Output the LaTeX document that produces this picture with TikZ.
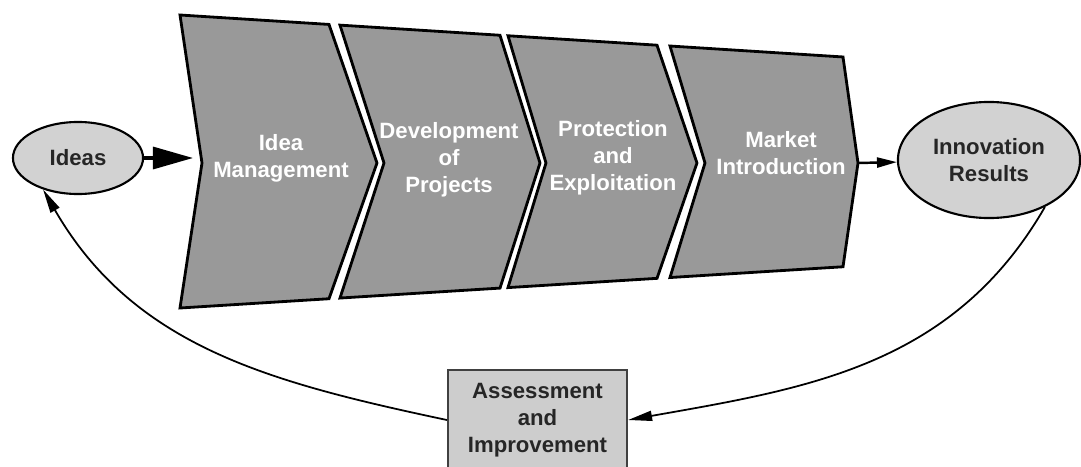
\documentclass[tikz,border=0pt]{standalone}
\usepackage{fontspec}
\setmainfont{Liberation Sans}
\usetikzlibrary{arrows.meta,shapes.geometric}
\definecolor{stepGray}{HTML}{999999}
\definecolor{ovalGray}{HTML}{D2D2D2}
\definecolor{boxGray}{HTML}{CDCDCD}

\begin{document}
\begin{tikzpicture}
[x=0.01cm,y=0.01cm,
  stepDecorate/.style={draw=black,fill=stepGray,line width=0.8pt,line join=miter},%
  stepText/.style={text=white,align=center,font=\bfseries\fontsize{6.3}{7.7}\selectfont},%
  ovalDecorate/.style={shape=ellipse,draw=black,fill=ovalGray,line width=0.6pt,inner sep=0pt,
    align=center,text=black!85,font=\bfseries\fontsize{6.3}{7.7}\selectfont},%
  boxDecorate/.style={shape=rectangle,draw=black!75,fill=boxGray,line width=0.6pt,inner sep=0pt,
    align=center,text=black!85,font=\bfseries\fontsize{6.3}{7.7}\selectfont},%
  bigArrow/.style={-{Triangle[length=4mm,width=2.2mm]},line width=0.9pt},%
  smallArrow/.style={-{Triangle[length=2mm,width=1mm]},line width=0.7pt},%
  curveArrow/.style={-{Triangle[length=2.4mm,width=1mm]},line width=0.5pt}]
\useasboundingbox (0,0) rectangle (1081,466);
\clip (0,0) rectangle (1081,466);
%% steps of the process
\foreach \stepname/\xl/\xn/\xr/\xt/\tx/\ty/\steptext in {
  step1/180/202/329/377/281/308/{Idea\\Management},
  step2/340/384/500/540/449/306/{Development\\of\\Projects},
  step3/508/546/657/697/613/308/{Protection\\and\\Exploitation},
  step4/670/705/843/858/781/313/{Market\\Introduction}}
{
  \draw[stepDecorate] (\xl,{451-0.0633*(\xl-180)}) -- (\xr,{451-0.0633*(\xr-180)})
    -- (\xt,303) -- (\xr,{158+0.0622*(\xr-180)}) -- (\xl,{158+0.0622*(\xl-180)})
    -- (\xn,303) -- cycle;
  \coordinate (\stepname-notch) at (\xn,303);
  \coordinate (\stepname-tip) at (\xt,303);
  \node[stepText] (\stepname) at (\tx,\ty) {\steptext};
}
%% ovals and box
\node[ovalDecorate,minimum width=1.3cm,minimum height=0.72cm] (ideas) at (78,308) {Ideas};
\node[ovalDecorate,minimum width=1.82cm,minimum height=1.16cm] (results) at (989,306)
  {Innovation\\Results};
\node[boxDecorate,minimum width=1.79cm,minimum height=1.0cm] (assess) at (537.5,46)
  {Assessment\\and\\Improvement};
%% arrows
\draw[bigArrow,shorten >=0.9mm] (ideas.east) -- (ideas.east -| step1-notch);
\draw[smallArrow] (step4-tip) -- (results);
\draw[curveArrow] (results.-40) to[out=240,in=10] (assess.east);
\draw[curveArrow] (assess.west) to[out=168,in=-60] (ideas.222);
\end{tikzpicture}
\end{document}
